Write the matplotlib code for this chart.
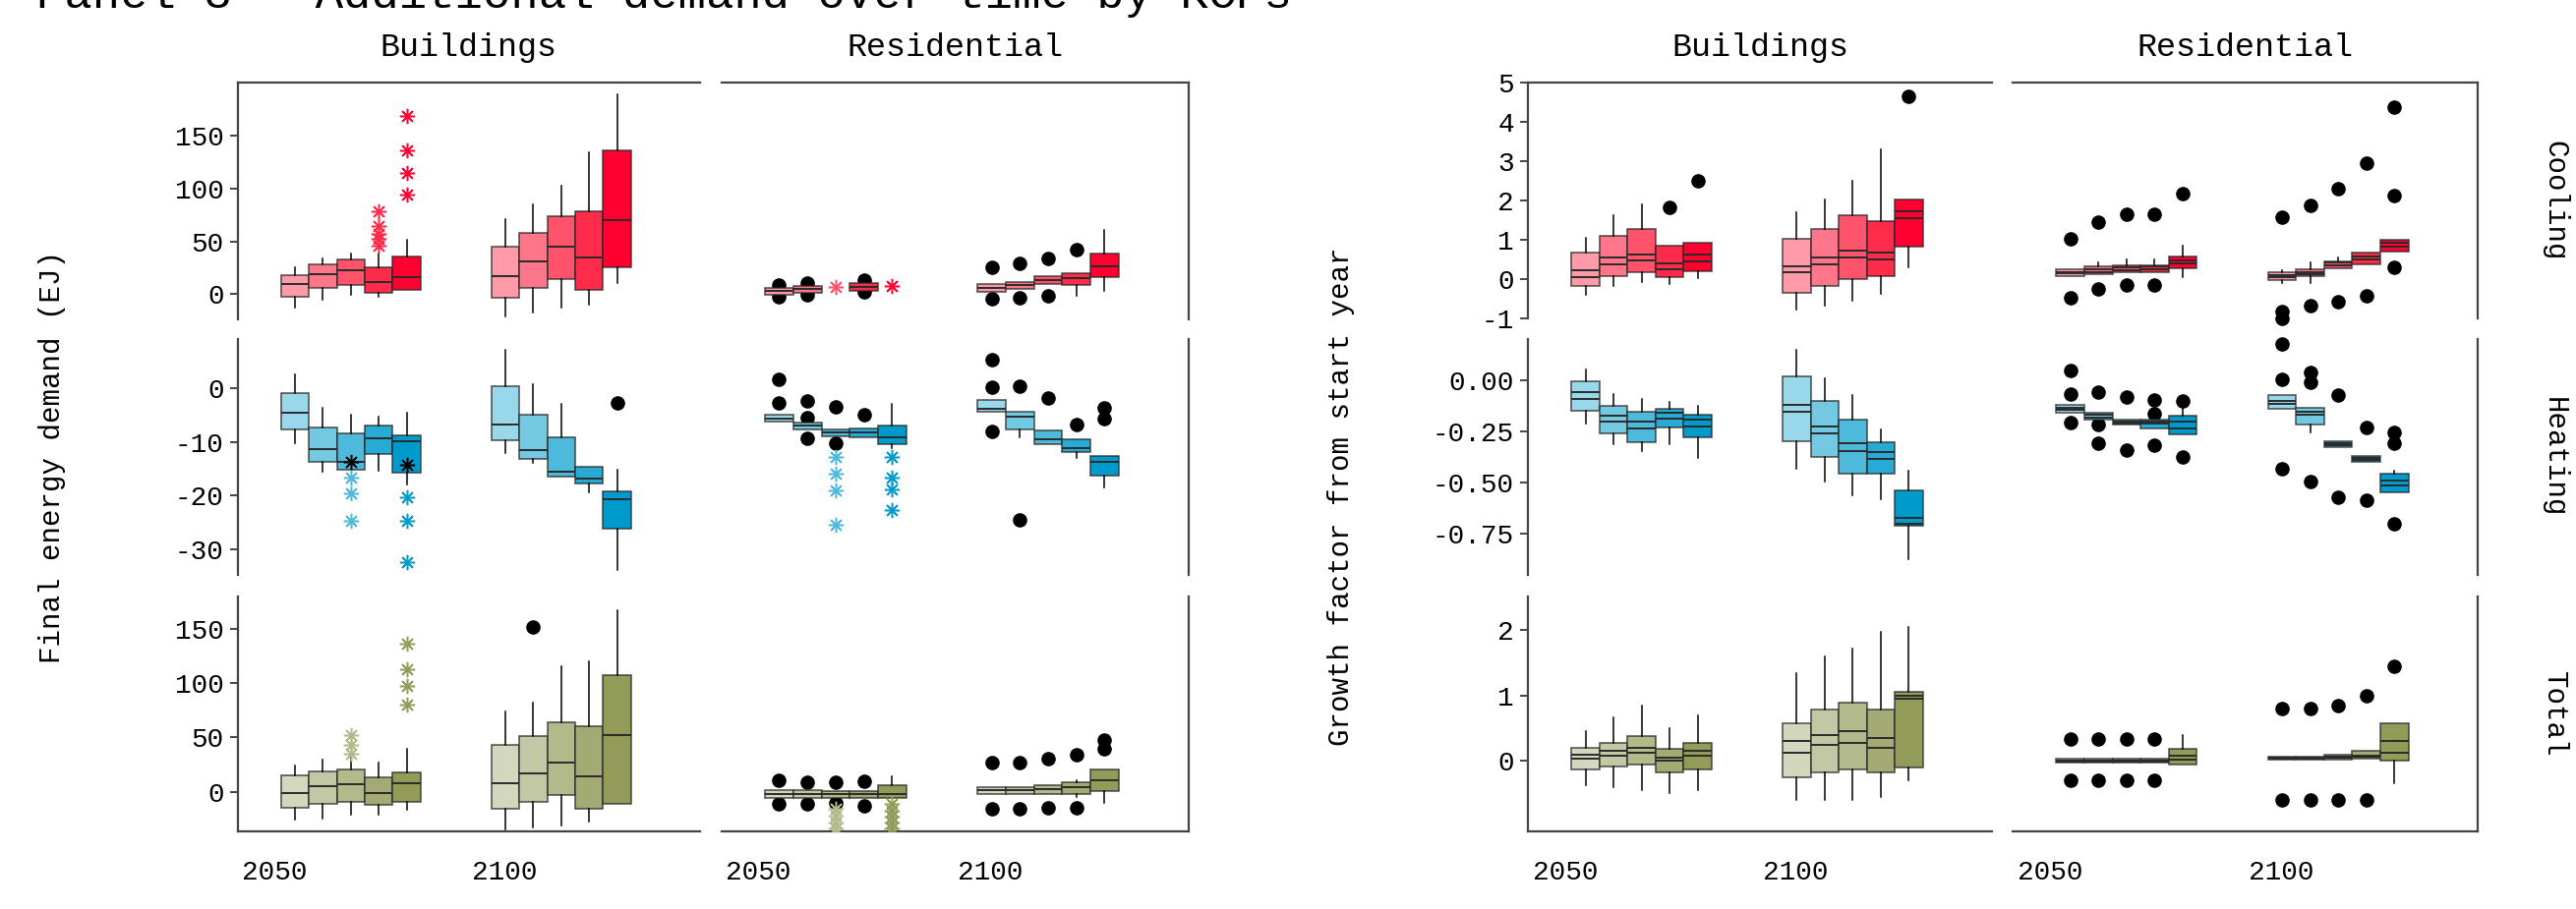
import matplotlib.pyplot as plt

plt.rcParams['font.family'] = ['Liberation Mono', 'DejaVu Sans Mono']
plt.rcParams['axes.unicode_minus'] = False

W, H = 2620, 925

YEARS = ['2050', '2100']
SECTORS = ['Buildings', 'Residential']
END_USES = ['Cooling', 'Heating', 'Total']

# five KCP shades per end use, lightest first
COLORS = {
    'Cooling': ['#ff9aa8', '#ff7589', '#ff536c', '#ff2b4b', '#ff0030'],
    'Heating': ['#99d7ea', '#73c8e2', '#4db9db', '#27aad3', '#009bcb'],
    'Total': ['#d3d7bd', '#c2c8a4', '#b2b98b', '#a3aa73', '#939b59'],
}

# ---- final energy demand (EJ) ----
# per year: one (low whisker, q1, median, q3, high whisker) per KCP, None = no box
ej_cool_bld = [
    [(-12.4, -2.8, 9.6, 18, 25.8), (-5.3, 5.6, 19, 28, 34), (-0.6, 8.7, 22.4, 33, 38.8),
     (-2.8, 0.9, 11.8, 25.2, 38.8), (3.7, 3.7, 15.8, 36, 51.6)],
    [(-21.4, -3.7, 17.4, 45.3, 70.8), (-17.7, 5.6, 31.4, 58.4, 85.4), (-13, 14, 44.7, 74.2, 102.8),
     (-9.9, 3.7, 34.5, 78.6, 134.5), (10.9, 25.2, 70.2, 136, 189.4)],
]
ej_cool_bld_dots = {}
ej_cool_bld_stars = {(0, 3): [46, 52.2, 56.8, 64.6, 78.6], (0, 4): [94.7, 115.2, 136, 168.6]}

ej_cool_res = [
    [(-0.6, -0.6, 2.8, 6.2, 6.2), (0.9, 0.9, 4.7, 8.1, 8.1), None,
     (3.4, 3.4, 7.1, 10.2, 10.2), None],
    [(2.5, 2.5, 6.2, 9.3, 9.3), (4.7, 4.7, 8.7, 11.8, 11.8), (9.6, 9.6, 13.4, 16.8, 16.8),
     (-1.2, 8.7, 14.9, 20.2, 20.2), (3.4, 16.5, 26.7, 38.8, 60.9)],
]
ej_cool_res_dots = {(0, 0): [8.7, -2.8], (0, 1): [10.2, -0.6], (0, 3): [13.4, 2.5],
                    (1, 0): [25.2, -4.7], (1, 1): [28.9, -3.7], (1, 2): [33.5, -1.2],
                    (1, 3): [42.2]}
ej_cool_res_stars = {(0, 2): [7.1], (0, 4): [7.8]}

ej_heat_bld = [
    [(-10.3, -7.6, -4.6, -0.9, 2.6), (-15.5, -13.7, -11.3, -7.3, -3.6), (-15.2, -15.2, -13.8, -8.5, -5.0),
     (-15.4, -12.3, -9.4, -7.0, -5.3), (-17.9, -15.7, -9.8, -8.8, -4.6)],
    [(-12.0, -9.7, -6.8, 0.3, 7.1), (-13.9, -13.1, -11.6, -5.0, 0.7), (-16.5, -16.5, -15.6, -9.1, -3.0),
     (-19.3, -17.8, -16.9, -14.7, -14.7), (-33.8, -26.2, -20.7, -19.1, -15.2)],
]
ej_heat_bld_dots = {(1, 4): [-2.7]}
ej_heat_bld_stars = {(0, 2): [-16.7, -19.5, -24.6], (0, 4): [-20.2, -24.6, -32.3]}
ej_heat_bld_black = {(0, 2): [-13.7], (0, 4): [-14.2]}

ej_heat_res = [
    [(-6.3, -6.3, -5.6, -5.0, -5.0), (-7.7, -7.7, -7.0, -6.4, -6.4), (-8.9, -8.9, -8.2, -7.6, -7.6),
     (-9.1, -9.1, -8.2, -7.5, -7.5), (-11.2, -10.5, -9.2, -7.0, -2.9)],
    [(-4.4, -4.4, -3.8, -2.2, -2.2), (-9.1, -7.6, -5.3, -4.4, -4.4), (-10.5, -10.5, -9.6, -7.9, -7.9),
     (-12.9, -11.9, -11.2, -9.5, -9.5), (-18.5, -16.2, -13.7, -12.6, -12.6)],
]
ej_heat_res_dots = {(0, 0): [1.6, -2.7], (0, 1): [-2.4, -5.5, -9.3], (0, 2): [-3.5, -10.2],
                    (0, 3): [-5.0], (1, 0): [5.2, 0.2, -8.0], (1, 1): [0.4, -24.4],
                    (1, 2): [-1.9], (1, 3): [-6.7], (1, 4): [-3.6, -5.7]}
ej_heat_res_stars = {(0, 2): [-12.8, -15.9, -19.0, -25.4], (0, 4): [-12.8, -16.7, -18.8, -22.7]}

ej_tot_bld = [
    [(-26, -14.5, -1.5, 15.4, 24.1), (-25, -11.5, 5.1, 18.7, 29.9), (-21.4, -9.1, 7.2, 20.8, 32.3),
     (-20.8, -12.1, -0.9, 13.6, 26.9), (-16.6, -9.1, 8.1, 17.5, 39.5)],
    [(-34.7, -15.4, 8.1, 43.5, 74), (-33.2, -9.1, 17.2, 51.6, 82.1), (-31.1, -3.3, 26.9, 64.3, 115.3),
     (-27.5, -16.0, 14.2, 60.7, 119.8), (-10.9, -10.9, 52.5, 107.2, 167.2)],
]
ej_tot_bld_dots = {(1, 1): [151.5]}
ej_tot_bld_stars = {(0, 2): [34.7, 43.5, 51.9], (0, 4): [80.6, 97.2, 113.2, 136.4]}

ej_tot_res = [
    [(-5.4, -5.4, -1.8, 1.5, 1.5), (-5.4, -5.4, -1.8, 1.5, 1.5), (-6.0, -6.0, -2.4, 0.6, 0.6),
     (-6.0, -6.0, -2.4, 0.6, 0.6), (-6.0, -6.0, -2.4, 5.7, 14.2)],
    [(-2.4, -2.4, 1.2, 4.5, 4.5), (-2.4, -2.4, 1.2, 4.5, 4.5), (-2.4, -2.4, 2.1, 6.3, 6.3),
     (-4.5, -2.4, 4.5, 8.8, 10.3), (-10, 0.6, 10.6, 20.8, 20.8)],
]
ej_tot_res_dots = {(0, 0): [10.3, -11.5], (0, 1): [8.8, -11.5], (0, 2): [8.8, -10],
                   (0, 3): [9.7, -13], (1, 0): [26.9, -16], (1, 1): [26.9, -16],
                   (1, 2): [30.8, -14.5], (1, 3): [34.4, -15.1], (1, 4): [39.2, 48]}
ej_tot_res_stars = {(0, 2): [-16, -22, -28, -34], (0, 4): [-11.5, -17.5, -22.6, -28, -33.5]}

# ---- growth factor from start year ----
# same layout, sixth entry is the mean
gf_cool_bld = [
    [(-0.4, -0.18, 0.22, 0.68, 1.06, 0.05), (-0.18, 0.06, 0.54, 1.1, 1.63, 0.38),
     (-0.09, 0.18, 0.63, 1.27, 1.89, 0.46), (-0.13, 0.04, 0.39, 0.85, 0.85, 0.24),
     (0.02, 0.2, 0.63, 0.93, 0.93, 0.45)],
    [(-0.78, -0.36, 0.33, 1.02, 1.71, 0.18), (-0.67, -0.18, 0.54, 1.27, 2.02, 0.37),
     (-0.55, -0.01, 0.73, 1.62, 2.5, 0.54), (-0.38, 0.08, 0.66, 1.48, 3.31, 0.49),
     (0.29, 0.83, 1.73, 2.02, 2.02, 1.54)],
]
gf_cool_bld_dots = {(0, 3): [1.83], (0, 4): [2.5], (1, 4): [4.66]}

gf_cool_res = [
    [(0.08, 0.08, 0.18, 0.25, 0.25, 0.14), (0.12, 0.12, 0.25, 0.31, 0.43, 0.18),
     (0.17, 0.17, 0.29, 0.35, 0.49, 0.23), (0.17, 0.17, 0.31, 0.35, 0.49, 0.25),
     (0.04, 0.27, 0.48, 0.58, 0.85, 0.39)],
    [(-0.11, -0.03, 0.1, 0.16, 0.23, 0.04), (-0.11, 0.08, 0.18, 0.24, 0.43, 0.13),
     (0.28, 0.28, 0.41, 0.45, 0.54, 0.35), (0.37, 0.37, 0.58, 0.66, 0.66, 0.49),
     (0.7, 0.7, 0.91, 1.0, 1.0, 0.81)],
]
gf_cool_res_dots = {(0, 0): [1.02, -0.48], (0, 1): [1.46, -0.25], (0, 2): [1.66, -0.15],
                    (0, 3): [1.66, -0.15], (0, 4): [2.18], (1, 0): [1.58, -0.83, -1.0],
                    (1, 1): [1.87, -0.69], (1, 2): [2.31, -0.57], (1, 3): [2.95, -0.44],
                    (1, 4): [4.39, 2.12, 0.29]}

gf_heat_bld = [
    [(-0.21, -0.148, -0.059, -0.008, 0.052, -0.091), (-0.315, -0.262, -0.172, -0.124, -0.067, -0.203),
     (-0.346, -0.302, -0.203, -0.156, -0.091, -0.235), (-0.315, -0.23, -0.159, -0.138, -0.108, -0.188),
     (-0.378, -0.281, -0.194, -0.168, -0.124, -0.226)],
    [(-0.434, -0.297, -0.122, 0.016, 0.148, -0.156), (-0.497, -0.377, -0.227, -0.103, 0.008, -0.259),
     (-0.561, -0.458, -0.31, -0.191, -0.072, -0.345), (-0.583, -0.458, -0.353, -0.302, -0.242, -0.386),
     (-0.871, -0.71, -0.674, -0.536, -0.442, -0.702)],
]
gf_heat_bld_dots = {}

gf_heat_res = [
    [(-0.159, -0.159, -0.135, -0.122, -0.122, -0.146), (-0.194, -0.194, -0.17, -0.159, -0.159, -0.181),
     (-0.219, -0.219, -0.201, -0.191, -0.191, -0.21), (-0.235, -0.235, -0.203, -0.191, -0.191, -0.214),
     (-0.265, -0.265, -0.203, -0.175, -0.135, -0.234)],
    [(-0.138, -0.138, -0.1, -0.075, -0.075, -0.114), (-0.257, -0.219, -0.154, -0.135, -0.135, -0.17),
     (-0.329, -0.329, -0.308, -0.297, -0.297, -0.318), (-0.40, -0.40, -0.378, -0.369, -0.369, -0.389),
     (-0.548, -0.548, -0.488, -0.456, -0.442, -0.513)],
]
gf_heat_res_dots = {(0, 0): [0.048, -0.067, -0.207], (0, 1): [-0.06, -0.215, -0.31],
                    (0, 2): [-0.084, -0.342], (0, 3): [-0.095, -0.164, -0.318],
                    (0, 4): [-0.103, -0.377], (1, 0): [0.178, 0.005, -0.432],
                    (1, 1): [0.037, -0.011, -0.493], (1, 2): [-0.072, -0.572],
                    (1, 3): [-0.23, -0.585], (1, 4): [-0.254, -0.31, -0.699]}

gf_tot_bld = [
    [(-0.38, -0.13, 0.03, 0.2, 0.45, 0.1), (-0.4, -0.08, 0.08, 0.28, 0.66, 0.15),
     (-0.45, -0.05, 0.13, 0.38, 0.84, 0.2), (-0.5, -0.18, 0.0, 0.18, 0.5, 0.05),
     (-0.45, -0.13, 0.08, 0.28, 0.7, 0.15)],
    [(-0.6, -0.25, 0.13, 0.58, 1.34, 0.3), (-0.6, -0.18, 0.25, 0.78, 1.6, 0.4),
     (-0.6, -0.13, 0.28, 0.89, 1.72, 0.45), (-0.55, -0.18, 0.2, 0.78, 1.97, 0.35),
     (-0.3, -0.1, 1.0, 1.05, 2.05, 0.95)],
]
gf_tot_bld_dots = {}

gf_tot_res = [
    [(-0.03, -0.03, 0.0, 0.03, 0.03, -0.01), (-0.03, -0.03, 0.0, 0.03, 0.03, -0.01),
     (-0.03, -0.03, 0.0, 0.03, 0.03, -0.01), (-0.03, -0.03, 0.0, 0.03, 0.03, -0.01),
     (-0.05, -0.05, 0.02, 0.18, 0.4, 0.08)],
    [(0.02, 0.02, 0.05, 0.07, 0.07, 0.04), (0.02, 0.02, 0.05, 0.07, 0.07, 0.04),
     (0.02, 0.02, 0.06, 0.1, 0.1, 0.05), (0.03, 0.03, 0.08, 0.15, 0.15, 0.07),
     (-0.35, 0.0, 0.12, 0.58, 0.58, 0.3)],
]
gf_tot_res_dots = {(0, 0): [0.33, -0.3], (0, 1): [0.33, -0.3], (0, 2): [0.33, -0.3],
                   (0, 3): [0.33, -0.3], (1, 0): [0.8, -0.6], (1, 1): [0.8, -0.6],
                   (1, 2): [0.85, -0.6], (1, 3): [1.0, -0.6], (1, 4): [1.45]}

EJ_YLIM = [(-23.3, 200), (-34.7, 9.1), (-36.5, 180)]
EJ_YTICKS = [[0, 50, 100, 150], [-30, -20, -10, 0], [0, 50, 100, 150]]
GF_YLIM = [(-1.02, 5.0), (-0.95, 0.2), (-1.08, 2.52)]
GF_YTICKS = [[-1, 0, 1, 2, 3, 4, 5], [-0.75, -0.5, -0.25, 0.0], [0, 1, 2]]

# horizontal layout inside each facet (axes fraction)
GROUP_X = [0.245, 0.70]
TICK_X = [0.08, 0.577]
BOX_W = 0.0604

ROWS_PX = [(84.3, 324.5), (345, 585), (606.7, 846)]
LEFT_COLS_PX = [(241.5, 712), (733.5, 1208.5)]
RIGHT_COLS_PX = [(1554, 2026), (2047, 2520)]

EDGE = (0.15, 0.15, 0.15, 0.75)


def rect(col, row):
    x0, x1 = col
    y0, y1 = row
    return [x0 / W, 1 - y1 / H, (x1 - x0) / W, (y1 - y0) / H]


def draw_facet(ax, boxes, colors, dots=None, stars=None, black=None):
    for g, group in enumerate(boxes):
        for k, b in enumerate(group):
            if b is None:
                continue
            x = GROUP_X[g] + (k - 2) * BOX_W
            st = dict(whislo=b[0], q1=b[1], med=b[2], q3=b[3], whishi=b[4], fliers=[])
            has_mean = len(b) > 5
            if has_mean:
                st['mean'] = b[5]
            bp = ax.bxp([st], positions=[x], widths=BOX_W, patch_artist=True,
                        showcaps=False, showfliers=False, showmeans=has_mean, meanline=True,
                        boxprops=dict(edgecolor=EDGE, linewidth=1.2),
                        medianprops=dict(color='#2a2a2a', linewidth=1.4),
                        meanprops=dict(color='#2a2a2a', linewidth=1.4, linestyle='-'),
                        whiskerprops=dict(color='k', linewidth=1.1),
                        manage_ticks=False, zorder=2)
            bp['boxes'][0].set_facecolor(colors[k])
    for (g, k), vals in (dots or {}).items():
        x = GROUP_X[g] + (k - 2) * BOX_W
        ax.plot([x] * len(vals), vals, 'o', color='k', ms=9.5, zorder=1.5, clip_on=False)
    for (g, k), vals in (stars or {}).items():
        x = GROUP_X[g] + (k - 2) * BOX_W
        ax.plot([x] * len(vals), vals, linestyle='none', marker=(8, 2, 0), color=colors[k],
                ms=11, mew=1.1, zorder=3)
    for (g, k), vals in (black or {}).items():
        x = GROUP_X[g] + (k - 2) * BOX_W
        ax.plot([x] * len(vals), vals, linestyle='none', marker=(8, 2, 0), color='k',
                ms=11, mew=1.1, zorder=3)


def style_facet(ax, r, c, ylim, yticks, fmt):
    ax.set_xlim(0, 1)
    ax.set_ylim(*ylim)
    for side in ['top', 'bottom', 'left', 'right']:
        ax.spines[side].set_color('#444444')
        ax.spines[side].set_linewidth(1.6)
    ax.spines['top'].set_visible(r == 0)
    ax.spines['bottom'].set_visible(r == 2)
    ax.spines['left'].set_visible(c == 0)
    ax.spines['right'].set_visible(c == 1)
    if c == 0:
        ax.set_yticks(yticks)
        ax.set_yticklabels([fmt(v) for v in yticks])
        ax.tick_params(axis='y', length=6, width=1.4, color='#444444', labelsize=20, pad=4)
    else:
        ax.set_yticks([])
    if r == 2:
        ax.set_xticks(TICK_X)
        ax.set_xticklabels(YEARS)
        ax.tick_params(axis='x', length=0, labelsize=20, pad=21)
    else:
        ax.set_xticks([])
    if r == 0:
        ax.set_title(SECTORS[c], fontsize=24, pad=20)


fig = plt.figure(figsize=(W / 100, H / 100), dpi=100)

ej_panels = [
    [(ej_cool_bld, ej_cool_bld_dots, ej_cool_bld_stars, None),
     (ej_cool_res, ej_cool_res_dots, ej_cool_res_stars, None)],
    [(ej_heat_bld, ej_heat_bld_dots, ej_heat_bld_stars, ej_heat_bld_black),
     (ej_heat_res, ej_heat_res_dots, ej_heat_res_stars, None)],
    [(ej_tot_bld, ej_tot_bld_dots, ej_tot_bld_stars, None),
     (ej_tot_res, ej_tot_res_dots, ej_tot_res_stars, None)],
]
gf_panels = [
    [(gf_cool_bld, gf_cool_bld_dots), (gf_cool_res, gf_cool_res_dots)],
    [(gf_heat_bld, gf_heat_bld_dots), (gf_heat_res, gf_heat_res_dots)],
    [(gf_tot_bld, gf_tot_bld_dots), (gf_tot_res, gf_tot_res_dots)],
]

for r, use in enumerate(END_USES):
    for c in range(2):
        ax = fig.add_axes(rect(LEFT_COLS_PX[c], ROWS_PX[r]))
        boxes, dots, stars, black = ej_panels[r][c]
        draw_facet(ax, boxes, COLORS[use], dots, stars, black)
        style_facet(ax, r, c, EJ_YLIM[r], EJ_YTICKS[r], lambda v: f'{v:g}')

        ax = fig.add_axes(rect(RIGHT_COLS_PX[c], ROWS_PX[r]))
        boxes, dots = gf_panels[r][c]
        draw_facet(ax, boxes, COLORS[use], dots)
        fmt = (lambda v: f'{v:.2f}') if r == 1 else (lambda v: f'{v:g}')
        style_facet(ax, r, c, GF_YLIM[r], GF_YTICKS[r], fmt)
        if c == 1:
            yc = 1 - (ROWS_PX[r][0] + ROWS_PX[r][1]) / 2 / H
            fig.text(2598 / W, yc, use, rotation=-90, ha='center', va='center', fontsize=21)

fig.text(53 / W, 1 - 465 / H, 'Final energy demand (EJ)', rotation=90,
         ha='center', va='center', fontsize=21)
fig.text(1364 / W, 1 - 505 / H, 'Growth factor from start year', rotation=90,
         ha='center', va='center', fontsize=21)
# the heading sits mostly above the canvas, only its lower part shows
fig.text(37 / W, 1 - 8 / H, 'Panel 3 - Additional demand over time by KCPs',
         ha='left', va='baseline', fontsize=34)

fig.savefig('out.png', dpi=100)
